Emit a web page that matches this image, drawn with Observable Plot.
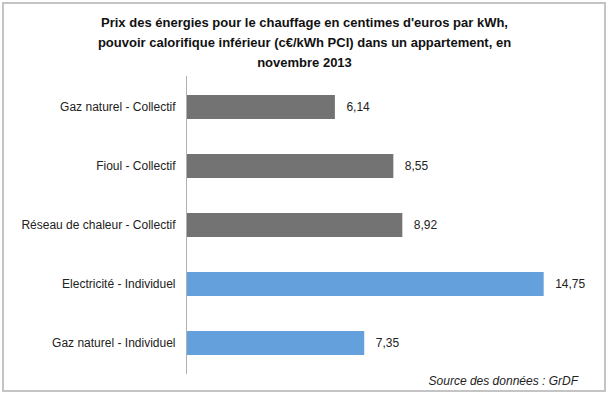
<!DOCTYPE html>
<html>
<head>
<meta charset="utf-8">
<script src="https://cdn.jsdelivr.net/npm/d3@7"></script>
<script src="https://cdn.jsdelivr.net/npm/@observablehq/plot@0.6"></script>
<style>
  html, body { margin: 0; padding: 0; background: #fff; }
  #wrap { position: relative; width: 609px; height: 397px; font-family: "Liberation Sans", Arial, sans-serif; overflow: hidden; }
  #frame { position: absolute; left: 2px; top: 2px; width: 600px; height: 386px; border: 2px solid #c4c4c4; }
  #title { position: absolute; left: 0; top: 13px; width: 609px; text-align: center; font-weight: bold; font-size: 13px; line-height: 20px; color: #111; }
  #chart { position: absolute; left: 0; top: 0; }
  #source { position: absolute; right: 31px; top: 374px; font-style: italic; font-size: 12px; color: #222; }
</style>
</head>
<body>
<div id="wrap">
  <div id="frame"></div>
  <div id="chart"></div>
  <div id="title">Prix des énergies pour le chauffage en centimes d'euros par kWh,<br>pouvoir calorifique inférieur (c€/kWh PCI) dans un appartement, en<br>novembre 2013</div>
  <div id="source">Source des données : GrDF</div>
</div>
<script>
const categories = ["Gaz naturel - Collectif", "Fioul - Collectif", "Réseau de chaleur - Collectif", "Electricité - Individuel", "Gaz naturel - Individuel"];
const values = [6.14, 8.55, 8.92, 14.75, 7.35];
const groups = ["Collectif", "Collectif", "Collectif", "Individuel", "Individuel"];
const labels = ["6,14", "8,55", "8,92", "14,75", "7,35"];

const data = categories.map((c, i) => ({cat: c, value: values[i], group: groups[i], label: labels[i]}));

const chart = Plot.plot({
  width: 609,
  height: 397,
  marginLeft: 186,
  marginRight: 35,
  marginTop: 76,
  marginBottom: 23,
  style: {fontFamily: "'Liberation Sans', Arial, sans-serif", fontSize: "12px", background: "transparent", color: "#222"},
  x: {domain: [0, 16], axis: null},
  y: {domain: categories, paddingInner: 0.6, paddingOuter: 0.3, label: null},
  color: {domain: ["Collectif", "Individuel"], range: ["#737373", "#64a0dc"]},
  marks: [
    Plot.barX(data, {x: "value", y: "cat", fill: "group"}),
    Plot.ruleX([0], {stroke: "#b0b0b0", strokeWidth: 1}),
    Plot.axisY({tickSize: 0, tickPadding: 11, fontSize: 12, label: null}),
    Plot.text(data, {x: "value", y: "cat", text: "label", dx: 11, textAnchor: "start", fontSize: 12, fill: "#222"})
  ]
});
document.getElementById("chart").appendChild(chart);
</script>
</body>
</html>
